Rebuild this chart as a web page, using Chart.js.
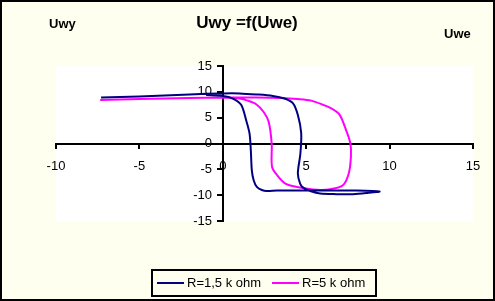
<!DOCTYPE html>
<html>
<head>
<meta charset="utf-8">
<script src="https://cdn.jsdelivr.net/npm/chart.js@4"></script>
<style>
  body { margin: 0; background: #fff; }
</style>
</head>
<body>
<canvas id="canvas" width="495" height="301"></canvas>
<script>
var uweR15 = [-7.3, -5, -3.5, -2, 0, 1, 2, 3, 3.7, 4.2, 4.5, 4.7, 4.65, 4.5, 4.64, 4.84, 5.24, 5.84, 6.84, 7.8, 8.6, 9.4, 8, 6, 4, 3.24, 2.64, 2.34, 2.04, 1.85, 1.74, 1.68, 1.6, 1.4, 1.1, 0.6, 0, -1];
var uwyR15 = [8.9, 9.1, 9.3, 9.5, 9.7, 9.7, 9.5, 9.2, 8.7, 7.8, 5.5, 2, -2, -5.8, -7.8, -8.6, -9.2, -9.7, -9.8, -9.8, -9.6, -9.3, -9.1, -9.1, -9.1, -9.1, -9.2, -9.0, -8.4, -7.1, -5.2, -1.3, 2, 4.5, 7.5, 8.7, 9.2, 9.4];

var uweR5 = [-7.35, -5, -2, 0, 2, 3.5, 4.5, 5.3, 6, 6.5, 7, 7.4, 7.65, 7.68, 7.55, 7.2, 6.45, 5.65, 4.45, 3.75, 3.25, 2.95, 2.93, 2.75, 2.45, 2.0, 1.5, 1, 0];
var uwyR5 = [8.4, 8.6, 8.8, 8.9, 8.9, 8.8, 8.6, 8.3, 7.5, 6.8, 5.6, 2.5, 0, -2.6, -5.8, -8.1, -8.85, -8.95, -8.4, -7.75, -6.1, -4.5, 0, 4.2, 6.1, 7.6, 8.3, 8.7, 8.9];

var xTicks = [-10, -5, 0, 5, 10, 15];
var yTicks = [-15, -10, -5, 0, 5, 10, 15];

function punkty(xs, ys) {
    var out = [];
    for (var i = 0; i < xs.length; i++) out.push({x: xs[i], y: ys[i]});
    return out;
}

var czcionka = "'Liberation Sans', Arial, sans-serif";

var tlo = {
    id: 'tlo',
    beforeDraw: function(chart) {
        var c = chart.ctx, a = chart.chartArea;
        c.save();
        c.fillStyle = '#FFFFF0';
        c.fillRect(0, 0, chart.width, chart.height);
        c.fillStyle = '#FFFFFF';
        c.fillRect(a.left, a.top, a.right - a.left, a.bottom - a.top);
        c.restore();
    },
    afterDraw: function(chart) {
        var c = chart.ctx;
        c.save();
        c.fillStyle = '#000';
        c.textBaseline = 'middle';
        c.textAlign = 'center';
        c.font = 'bold 17px ' + czcionka;
        c.fillText('Uwy =f(Uwe)', 247, 23);
        c.font = 'bold 13px ' + czcionka;
        c.textAlign = 'left';
        c.fillText('Uwy', 49, 24);
        c.fillText('Uwe', 444, 34);

        // legenda w ramce
        c.strokeStyle = '#000';
        c.lineWidth = 2;
        c.strokeRect(152, 270, 224, 26);
        var ds = chart.data.datasets;
        var lx = [157, 272];
        c.font = '13px ' + czcionka;
        for (var i = 0; i < ds.length; i++) {
            c.strokeStyle = ds[i].borderColor;
            c.beginPath();
            c.moveTo(lx[i], 283);
            c.lineTo(lx[i] + 27, 283);
            c.stroke();
            c.fillText(ds[i].label, lx[i] + 30, 283);
        }
        c.lineWidth = 2;
        c.strokeStyle = '#000';
        c.strokeRect(1, 1, chart.width - 2, chart.height - 2);
        c.restore();
    }
};

var ctx = document.getElementById('canvas').getContext('2d');
var myChart = new Chart(ctx, {
    type: 'scatter',
    data: {
        datasets: [{
            label: 'R=1,5 k ohm',
            data: punkty(uweR15, uwyR15),
            showLine: true,
            borderColor: '#000080',
            backgroundColor: '#000080',
            borderWidth: 2,
            pointRadius: 0,
            tension: 0.3
        }, {
            label: 'R=5 k ohm',
            data: punkty(uweR5, uwyR5),
            showLine: true,
            borderColor: '#FF00FF',
            backgroundColor: '#FF00FF',
            borderWidth: 2,
            pointRadius: 0,
            tension: 0.3
        }]
    },
    options: {
        responsive: false,
        animation: false,
        devicePixelRatio: 1,
        layout: { padding: { left: 56, right: 22, top: 66, bottom: 80 } },
        plugins: {
            legend: { display: false },
            title: { display: false },
            tooltip: { enabled: false }
        },
        scales: {
            x: {
                type: 'linear',
                min: -10,
                max: 15,
                position: { y: 0 },
                afterBuildTicks: function(s) { s.ticks = xTicks.map(function(v) { return {value: v}; }); },
                ticks: { color: '#000', font: { family: czcionka, size: 13 }, padding: 11 },
                grid: { drawOnChartArea: false, drawTicks: true, tickLength: 4, color: '#000', lineWidth: 2 },
                border: { color: '#000', width: 2 }
            },
            y: {
                type: 'linear',
                min: -15,
                max: 15,
                position: { x: 0 },
                afterBuildTicks: function(s) { s.ticks = yTicks.map(function(v) { return {value: v}; }); },
                // etykiety przy osi w srodku - odsuniecie od linii osi spacjami
                ticks: { color: '#000', font: { family: czcionka, size: 13 }, callback: function(v) { return v + '   '; } },
                grid: { drawOnChartArea: false, drawTicks: true, tickLength: 5, color: '#000', lineWidth: 2 },
                border: { color: '#000', width: 2 }
            }
        }
    },
    plugins: [tlo]
});
</script>
</body>
</html>
